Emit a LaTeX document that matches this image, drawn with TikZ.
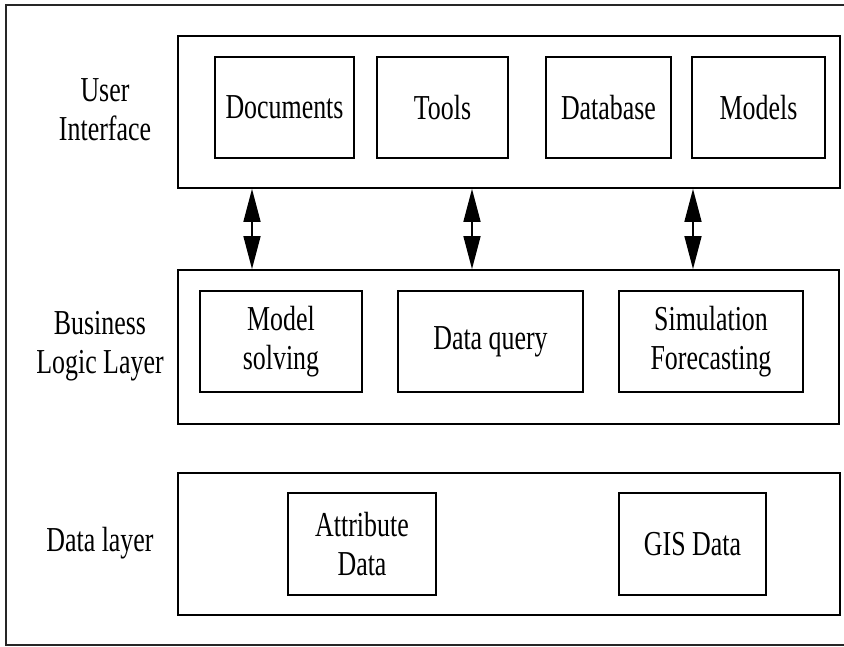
\documentclass[tikz,border=0pt]{standalone}
\usepackage{fontspec}
\setmainfont{Liberation Serif}[FakeStretch=0.74]
\usetikzlibrary{arrows.meta}
\tikzset{
  box/.style={draw, line width=1.8pt, rectangle, inner sep=0pt, align=center,
    font=\fontsize{35}{39}\selectfont},
  lbl/.style={inner sep=0pt, align=center, font=\fontsize{35}{39}\selectfont},
  dblarrow/.style={line width=1.6pt,
    {Triangle[length=33pt,width=17pt]}-{Triangle[length=33pt,width=17pt]}}
}
\begin{document}
\begin{tikzpicture}[x=1pt,y=1pt]
\useasboundingbox (0,0) rectangle (844,646);
% outer frame (right side runs off the picture)
\draw[line width=1.1pt, black!85] (850,641) -- (6,641) -- (6,1) -- (850,1);

% layers
\node[box, minimum width=662pt, minimum height=152pt] (ui) at (509,534) {};
\node[box, minimum width=661pt, minimum height=154pt] (bll) at (508.5,299) {};
\node[box, minimum width=662pt, minimum height=142pt] (dl) at (509,102) {};

% UI boxes
\node[box, minimum width=139pt, minimum height=101pt] (docs) at (284.5,538.5) {Documents};
\node[box, minimum width=131pt, minimum height=101pt] (tools) at (442.5,538.5) {Tools};
\node[box, minimum width=125pt, minimum height=101pt] (db) at (608.5,538.5) {Database};
\node[box, minimum width=133pt, minimum height=101pt] (models) at (758.5,538.5) {Models};

% BLL boxes
\node[box, minimum width=162pt, minimum height=101pt] (ms) at (281,304.5) {Model\\solving};
\node[box, minimum width=185pt, minimum height=101pt] (dq) at (490.5,304.5) {Data query};
\node[box, minimum width=184pt, minimum height=101pt] (sf) at (711,304.5) {Simulation\\Forecasting};

% Data boxes
\node[box, minimum width=148pt, minimum height=102pt] (attr) at (362,102) {Attribute\\Data};
\node[box, minimum width=147pt, minimum height=102pt] (gis) at (692.5,102) {GIS Data};

% labels
\node[lbl] (uil) at (105,536) {User\\Interface};
\node[lbl] (bllL) at (100,300) {Business\\Logic Layer};
\node[lbl] (dll) at (100,103) {Data layer};

% arrows
\coordinate (a1) at (252,0);
\coordinate (a2) at (472,0);
\coordinate (a3) at (693,0);
\draw[dblarrow] (a1 |- ui.south) -- (a1 |- bll.north);
\draw[dblarrow] (a2 |- ui.south) -- (a2 |- bll.north);
\draw[dblarrow] (a3 |- ui.south) -- (a3 |- bll.north);
\end{tikzpicture}
\end{document}
